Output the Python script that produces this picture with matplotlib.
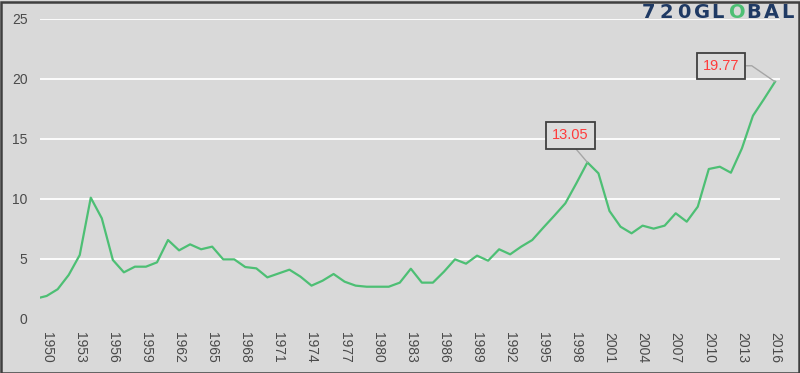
import matplotlib
matplotlib.use("Agg")
import matplotlib.pyplot as plt
from matplotlib.patches import Rectangle

years = list(range(1949, 2017))
values = [1.69, 1.92, 2.48, 3.67, 5.33, 10.11, 8.39, 4.92, 3.89, 4.36,
          4.36, 4.72, 6.58, 5.72, 6.22, 5.81, 6.03, 4.97, 4.97, 4.33,
          4.22, 3.47, 3.79, 4.11, 3.53, 2.78, 3.19, 3.75, 3.11, 2.78,
          2.69, 2.69, 2.69, 3.03, 4.19, 3.03, 3.03, 3.94, 4.97, 4.61,
          5.28, 4.86, 5.81, 5.39, 6.03, 6.58, 7.61, 8.61, 9.64, 11.31,
          13.05, 12.14, 9.00, 7.69, 7.14, 7.78, 7.53, 7.78, 8.81, 8.11,
          9.36, 12.50, 12.69, 12.19, 14.22, 16.94, 18.33, 19.77]
tick_years = list(range(1950, 2017, 3))
y_ticks = [0, 5, 10, 15, 20, 25]
callouts = {1999: 13.05, 2016: 19.77}
logo_left = "720GL"
logo_globe = "O"
logo_right = "BAL"

BG = "#D9D9D9"
TXT = "#4A4A4A"
GREEN = "#4DBF74"
NAVY = "#1F3A64"

W, H = 800, 373
fig = plt.figure(figsize=(W / 100, H / 100), dpi=100, facecolor=BG)
ax = fig.add_axes([40 / W, (H - 319) / H, 740 / W, 300 / H])
ax.set_facecolor(BG)
for s in ax.spines.values():
    s.set_visible(False)

ax.plot(years, values, color=GREEN, lw=1.6, solid_joinstyle="round", zorder=3)
ax.set_xlim(1949.4, 2016.45)
ax.set_ylim(0, 25)
ax.set_yticks(y_ticks)
ax.set_xticks(tick_years)
ax.set_xticklabels([str(y) for y in tick_years], rotation=-90)
ax.tick_params(axis="both", length=0, colors=TXT, labelsize=10)
ax.tick_params(axis="x", pad=9)
ax.tick_params(axis="y", pad=9)
for lbl in ax.get_xticklabels() + ax.get_yticklabels():
    lbl.set_fontfamily("Liberation Sans")
for t in y_ticks[1:]:
    ax.axhline(t, color="white", lw=1.3, zorder=1)

offsets = {1999: (-17, 27), 2016: (-54, 16)}
for yr, v in callouts.items():
    dx, dy = offsets[yr]
    if yr == 2016:
        cs = "angle,angleA=0,angleB=-34.5,rad=0"
        rp = (1, 0.5)
    else:
        cs = "arc3"
        rp = (0.5, 0)
    ax.annotate(f"{v:.2f}", xy=(yr, v), xytext=(dx, dy), textcoords="offset pixels",
                ha="center", va="center", color="#FF3B3B", fontsize=10.5,
                family="Liberation Sans",
                bbox=dict(boxstyle="square,pad=0.42", fc="#DCDCDC", ec="#404040", lw=1.3),
                arrowprops=dict(arrowstyle="-", color="#A6A6A6", lw=1.0,
                                shrinkA=0, shrinkB=0, relpos=rp, connectionstyle=cs),
                zorder=5)

# logo
x0 = 642
pitch = 17.4
chars = list(logo_left) + [logo_globe] + list(logo_right)
for i, ch in enumerate(chars):
    col = GREEN if i == len(logo_left) else NAVY
    fig.text((x0 + i * pitch) / W, (H - 12.5) / H, ch, color=col, fontsize=14,
             fontweight="bold", family="DejaVu Sans", ha="left", va="center")

fig.patches.append(Rectangle((0.5 / W, 0.5 / H), (W - 2) / W, (H - 2) / H,
                             transform=fig.transFigure, fill=False,
                             ec="#3F3F3F", lw=1.8))

fig.savefig("out.png", dpi=100, facecolor=BG)
